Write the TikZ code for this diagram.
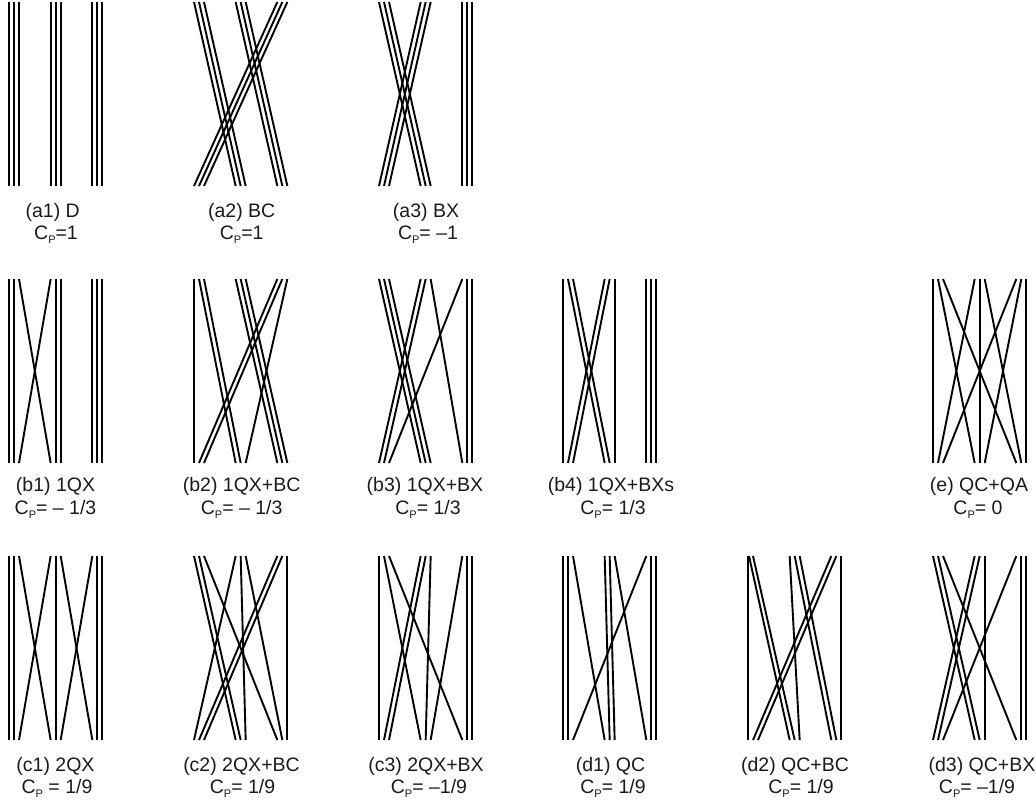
\documentclass[tikz,border=0pt]{standalone}
\usepackage{fontspec}
\setmainfont{Liberation Sans}
\usepackage{xcolor}
\usetikzlibrary{positioning,calc}
\definecolor{WireBlack}{HTML}{000000}
\definecolor{CaptionInk}{HTML}{1A1A1A}
\newcommand{\CPsym}{C\raisebox{-4.5pt}{\fontsize{11}{11}\selectfont P}}
\pgfmathdeclarefunction{slotx}{1}{\pgfmathparse{41.67*floor(#1/3)+5*(#1-3*floor(#1/3))}}
% panel of wires: left edge, top row, src/dst slot pairs
\newcommand{\wireset}[3]{
  \foreach \src/\dst in {#3} {
    \draw[wire] ({#1+slotx(\src)},#2) -- ({#1+slotx(\dst)},#2+184);
  }
}
\begin{document}
\begin{tikzpicture}[
    x=1pt,y=-1pt,
    wire/.style={
      draw=WireBlack,
      line width=1.9pt
    },
    caption/.style={
      anchor=base,
      inner sep=0pt,
      text=CaptionInk,
      font=\fontsize{19.5}{21}\selectfont
    }
  ]
    \useasboundingbox (0,0) rectangle (1036,808);

    % row a
    \wireset{9}{2}{0/0,1/1,2/2,3/3,4/4,5/5,6/6,7/7,8/8}
    \wireset{194}{2}{0/3,1/4,2/5,3/6,4/7,5/8,6/0,7/1,8/2}
    \wireset{379}{2}{0/3,1/4,2/5,3/0,4/1,5/2,6/6,7/7,8/8}
    \node[caption] (a1) at (52.7,217) {(a1) D};
    \node[caption] (a1cp) at (56,239) {\CPsym=1};
    \node[caption] (a2) at (241.7,217) {(a2) BC};
    \node[caption] (a2cp) at (241.7,239) {\CPsym=1};
    \node[caption] (a3) at (426,217) {(a3) BX};
    \node[caption] (a3cp) at (428,239) {\CPsym= –1};

    % row b
    \wireset{9}{279}{0/0,1/1,2/3,3/2,4/4,5/5,6/6,7/7,8/8}
    \wireset{194}{279}{0/0,1/3,2/4,3/6,4/7,5/8,6/1,7/2,8/5}
    \wireset{379}{279}{0/3,1/4,2/5,3/0,4/1,5/6,6/2,7/7,8/8}
    \wireset{563}{279}{0/0,1/3,2/4,3/1,4/2,5/5,6/6,7/7,8/8}
    \wireset{933}{279}{0/0,1/3,2/6,3/1,4/4,5/7,6/2,7/5,8/8}
    \node[caption] (b1) at (55.5,491.7) {(b1) 1QX};
    \node[caption] (b1cp) at (55.5,514) {\CPsym= – 1/3};
    \node[caption] (b2) at (241.7,491.7) {(b2) 1QX+BC};
    \node[caption] (b2cp) at (241.7,514) {\CPsym= – 1/3};
    \node[caption] (b3) at (425,491.7) {(b3) 1QX+BX};
    \node[caption] (b3cp) at (428,514) {\CPsym= 1/3};
    \node[caption] (b4) at (611,491.7) {(b4) 1QX+BXs};
    \node[caption] (b4cp) at (613,514) {\CPsym= 1/3};
    \node[caption] (e) at (979,491.7) {(e) QC+QA};
    \node[caption] (ecp) at (978,514) {\CPsym= 0};

    % row c and d
    \wireset{9}{556}{0/0,1/1,2/3,3/2,4/4,5/6,6/5,7/7,8/8}
    \wireset{194}{556}{0/3,1/4,2/6,3/0,4/5,5/7,6/1,7/2,8/8}
    \wireset{379}{556}{0/0,1/3,2/6,3/1,4/2,5/4,6/5,7/7,8/8}
    \wireset{563}{556}{0/0,1/1,2/3,3/4,4/5,5/6,6/2,7/7,8/8}
    \wireset{748}{556}{0/0,0.2/3,1/4,3/5,4/6,5/7,6/1,7/2,8/8}
    \wireset{933}{556}{0/3,1/4,2/6,3/0,4/1,5/5,6/2,7/7,8/8}
    \node[caption] (c1) at (55.5,771) {(c1) 2QX};
    \node[caption] (c1cp) at (57,793) {\CPsym{} = 1/9};
    \node[caption] (c2) at (241.5,771) {(c2) 2QX+BC};
    \node[caption] (c2cp) at (242.5,793) {\CPsym= 1/9};
    \node[caption] (c3) at (426,771) {(c3) 2QX+BX};
    \node[caption] (c3cp) at (429,793) {\CPsym= –1/9};
    \node[caption] (d1) at (610.5,771) {(d1) QC};
    \node[caption] (d1cp) at (613,793) {\CPsym= 1/9};
    \node[caption] (d2) at (795,771) {(d2) QC+BC};
    \node[caption] (d2cp) at (801,793) {\CPsym= 1/9};
    \node[caption] (d3) at (982,771) {(d3) QC+BX};
    \node[caption] (d3cp) at (977,793) {\CPsym= –1/9};
  \end{tikzpicture}
\end{document}
